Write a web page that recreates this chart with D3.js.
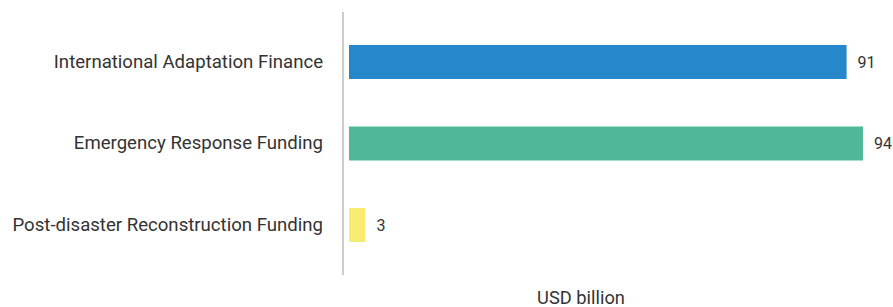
<!DOCTYPE html>
<html>
<head>
<meta charset="utf-8">
<script src="https://cdn.jsdelivr.net/npm/d3@7"></script>
<style>
  body { margin: 0; background: #fff; }
  svg { display: block; font-family: Roboto, sans-serif; }
</style>
</head>
<body>
<div id="wrapper"></div>
<script>
const categories = [
  "International Adaptation Finance",
  "Emergency Response Funding",
  "Post-disaster Reconstruction Funding",
]
const values = [91, 94, 3]
const colors = ["#2787cb", "#4eb899", "#f7ec6f"]
const axisTitle = "USD billion"

const dataset = categories.map((c, i) => ({ category: c, value: values[i], color: colors[i] }))

const dimensions = {
  width: 893,
  height: 307,
  axisX: 343,
  barStart: 349,
  top: 12,
  bottom: 275,
}

const wrapper = d3.select("#wrapper")
  .append("svg")
    .attr("width", dimensions.width)
    .attr("height", dimensions.height)

const xScale = d3.scaleLinear()
  .domain([0, 94])
  .range([dimensions.barStart, 863])

const yScale = d3.scaleBand()
  .domain(categories)
  .range([dimensions.top, dimensions.bottom])
  .paddingInner(0.583)
  .paddingOuter(0.405)

// bars
wrapper.selectAll("rect.bar")
  .data(dataset)
  .enter().append("rect")
    .attr("class", "bar")
    .attr("x", xScale(0))
    .attr("y", d => yScale(d.category))
    .attr("width", d => xScale(d.value) - xScale(0))
    .attr("height", yScale.bandwidth())
    .attr("fill", d => d.color)

// value labels
wrapper.selectAll("text.value")
  .data(dataset)
  .enter().append("text")
    .attr("class", "value")
    .attr("x", d => xScale(d.value) + 11)
    .attr("y", d => yScale(d.category) + yScale.bandwidth() / 2)
    .attr("dy", "0.35em")
    .attr("fill", "#333")
    .style("font-size", "16px")
    .text(d => d.value)

// category axis
const yAxis = wrapper.append("g")
  .attr("transform", `translate(${dimensions.axisX}, 0)`)
  .call(d3.axisLeft(yScale).tickSize(0).tickPadding(20))

yAxis.select(".domain").remove()
yAxis.append("line")
  .attr("y1", dimensions.top)
  .attr("y2", dimensions.bottom)
  .attr("stroke", "#ccc")
  .attr("stroke-width", 2)
yAxis.selectAll(".tick text")
  .attr("fill", "#333")
  .style("font-size", "18.6px")
  .style("font-family", "Roboto, sans-serif")

// axis title
wrapper.append("text")
  .attr("x", 581)
  .attr("y", 304)
  .attr("text-anchor", "middle")
  .attr("fill", "#333")
  .style("font-size", "18.3px")
  .text(axisTitle)
</script>
</body>
</html>
